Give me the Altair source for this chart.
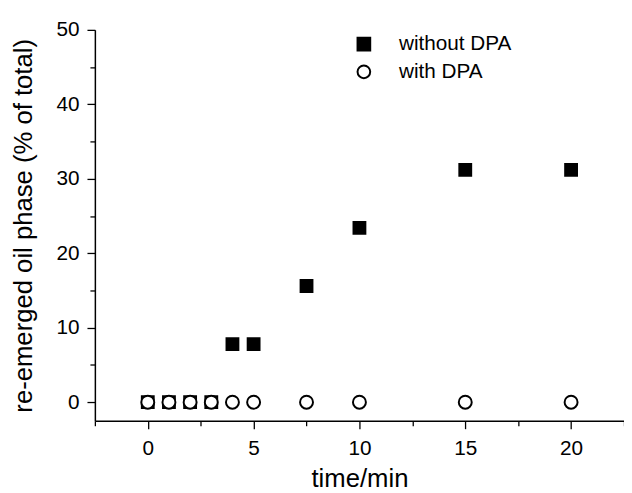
import altair as alt
import pandas as pd

# data
t_without = [0, 1, 2, 3, 4, 5, 7.5, 10, 15, 20]
y_without = [0, 0, 0, 0, 7.8, 7.8, 15.6, 23.4, 31.2, 31.2]
t_with = [0, 1, 2, 3, 4, 5, 7.5, 10, 15, 20]
y_with = [0, 0, 0, 0, 0, 0, 0, 0, 0, 0]
series = ["without DPA", "with DPA"]

x_ticks = [-2.5, 0, 2.5, 5, 7.5, 10, 12.5, 15, 17.5, 20, 22.5]
y_ticks = [0, 5, 10, 15, 20, 25, 30, 35, 40, 45, 50]

rows = [{"t": t, "v": v, "s": series[0], "k": 0} for t, v in zip(t_without, y_without)]
rows += [{"t": t, "v": v, "s": series[1], "k": 1} for t, v in zip(t_with, y_with)]
df = pd.DataFrame(rows)

FONT = "Liberation Sans"

legend_kw = dict(title=None, orient="none", legendX=262, legendY=4)

chart = alt.Chart(df).mark_point(filled=False, opacity=1, strokeWidth=2).encode(
    x=alt.X("t:Q", title="time/min",
            scale=alt.Scale(domain=[-2.5, 22.5], nice=False, zero=False),
            axis=alt.Axis(values=x_ticks, grid=False,
                          labelExpr="datum.value % 5 === 0 ? datum.label : ''",
                          tickSize={"condition": {"test": "datum.value % 5 === 0", "value": 8}, "value": 5},
                          labelPadding=9, titlePadding=8, labelFlush=False,
                          labelOverlap=False)),
    y=alt.Y("v:Q", title="re-emerged oil phase (% of total)",
            scale=alt.Scale(domain=[-2.5, 50], nice=False, zero=False),
            axis=alt.Axis(values=y_ticks, grid=False,
                          labelExpr="datum.value % 10 === 0 ? datum.label : ''",
                          tickSize={"condition": {"test": "datum.value % 10 === 0", "value": 8}, "value": 5},
                          labelPadding=8, titlePadding=20, labelFlush=False,
                          labelOverlap=False)),
    shape=alt.Shape("s:N", sort=series,
                    scale=alt.Scale(domain=series, range=["square", "circle"]),
                    legend=alt.Legend(**legend_kw)),
    fill=alt.Fill("s:N", sort=series,
                  scale=alt.Scale(domain=series, range=["black", "white"]),
                  legend=alt.Legend(**legend_kw)),
    stroke=alt.Stroke("s:N", sort=series,
                      scale=alt.Scale(domain=series, range=["black", "black"]),
                      legend=alt.Legend(**legend_kw)),
    size=alt.Size("k:N",
                  scale=alt.Scale(domain=[0, 1], range=[144, 172]),
                  legend=None),
    order=alt.Order("k:Q", sort="ascending"),
).properties(
    width=536, height=396,
    background="white",
    autosize=alt.AutoSizeParams(type="none"),
    padding={"left": 88, "top": 19, "right": 0, "bottom": 70},
).configure_view(
    strokeWidth=0
).configure_axis(
    domainColor="black", domainWidth=1.5,
    tickColor="black", tickWidth=1.3,
    labelFont=FONT, labelFontSize=21, labelColor="black",
    titleFont=FONT, titleFontSize=26, titleColor="black", titleFontWeight="normal",
).configure_legend(
    labelFont=FONT, labelFontSize=21, labelColor="black",
    labelOffset=25, rowPadding=6, padding=0,
    symbolSize=165, symbolStrokeWidth=2,
)

chart.save("out.html", embed_options={"renderer": "svg", "actions": False})
